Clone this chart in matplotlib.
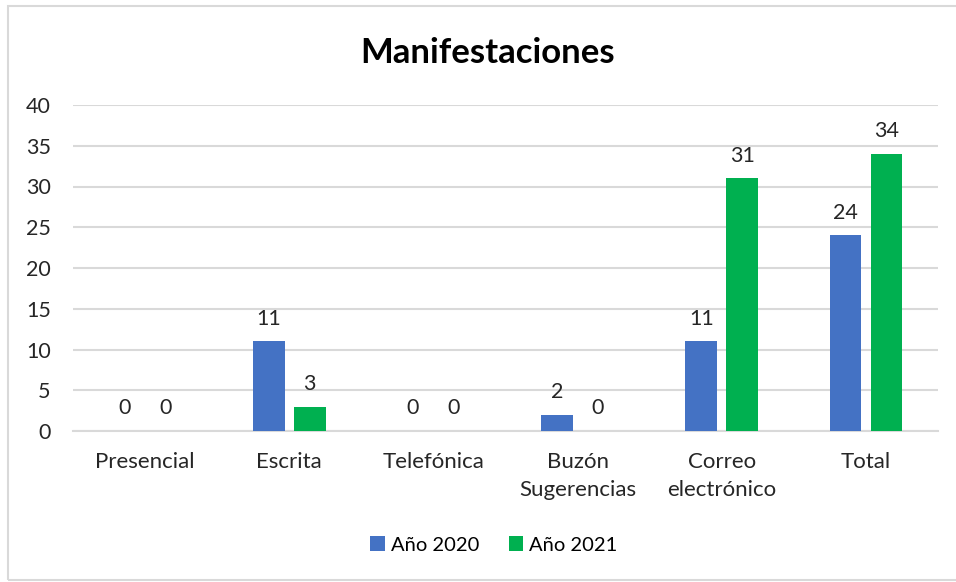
import matplotlib.pyplot as plt
import matplotlib.patches as mpatches
import numpy as np

categories = ['Presencial', 'Escrita', 'Telefónica', 'Buzón\nSugerencias',
              'Correo\nelectrónico', 'Total']
y2020 = [0, 11, 0, 2, 11, 24]
y2021 = [0, 3, 0, 0, 31, 34]
series_names = ['Año 2020', 'Año 2021']
yticks = [0, 5, 10, 15, 20, 25, 30, 35, 40]

plt.rcParams['font.family'] = ['Lato', 'DejaVu Sans']

fig = plt.figure(figsize=(9.56, 5.82), dpi=100)
ax = fig.add_axes([73 / 956, 1 - 431 / 582, (938 - 73) / 956, (431 - 105) / 582])

# chart border (right edge is cut off in the reference)
fig.patches.append(mpatches.Rectangle((8 / 956, 1 - 580 / 582), 1.0, (580 - 6) / 582,
                                      transform=fig.transFigure, fill=False,
                                      edgecolor='#d9d9d9', linewidth=1.5))

x = np.arange(len(categories))
w = 0.22
off = 0.142
b1 = ax.bar(x - off, y2020, w, color='#4472C4', label=series_names[0], zorder=3)
b2 = ax.bar(x + off, y2021, w, color='#00B050', label=series_names[1], zorder=3)

for bars in (b1, b2):
    for rect in bars:
        ax.annotate(f'{int(rect.get_height())}',
                    (rect.get_x() + rect.get_width() / 2, rect.get_height()),
                    xytext=(0, 9), textcoords='offset points',
                    ha='center', va='bottom', fontsize=15.5, color='#262626')

ax.set_xlim(-0.5, len(categories) - 0.5)
ax.set_ylim(0, 40)
ax.set_yticks(yticks)
ax.yaxis.grid(True, color='#d9d9d9', linewidth=1.5, zorder=0)
ax.set_xticks(x)
ax.set_xticklabels(categories, fontsize=16, color='#262626', linespacing=1.5)
ax.tick_params(axis='x', length=0, pad=15)
ax.tick_params(axis='y', length=0, pad=16, labelsize=15.5, labelcolor='#262626')
for s in ['top', 'right', 'left']:
    ax.spines[s].set_visible(False)
ax.spines['bottom'].set_color('#d9d9d9')
ax.spines['bottom'].set_linewidth(1.5)

fig.text(488 / 956, 1 - 53 / 582, 'Manifestaciones', ha='center', va='center',
         fontsize=25, fontweight='bold', color='black')

fig.legend(loc='center', bbox_to_anchor=(494 / 956, 1 - 545 / 582), ncol=2,
           frameon=False, fontsize=14.5, handlelength=0.7, handleheight=0.7,
           handletextpad=0.3, columnspacing=1.5)

fig.savefig('out.png', dpi=100)
